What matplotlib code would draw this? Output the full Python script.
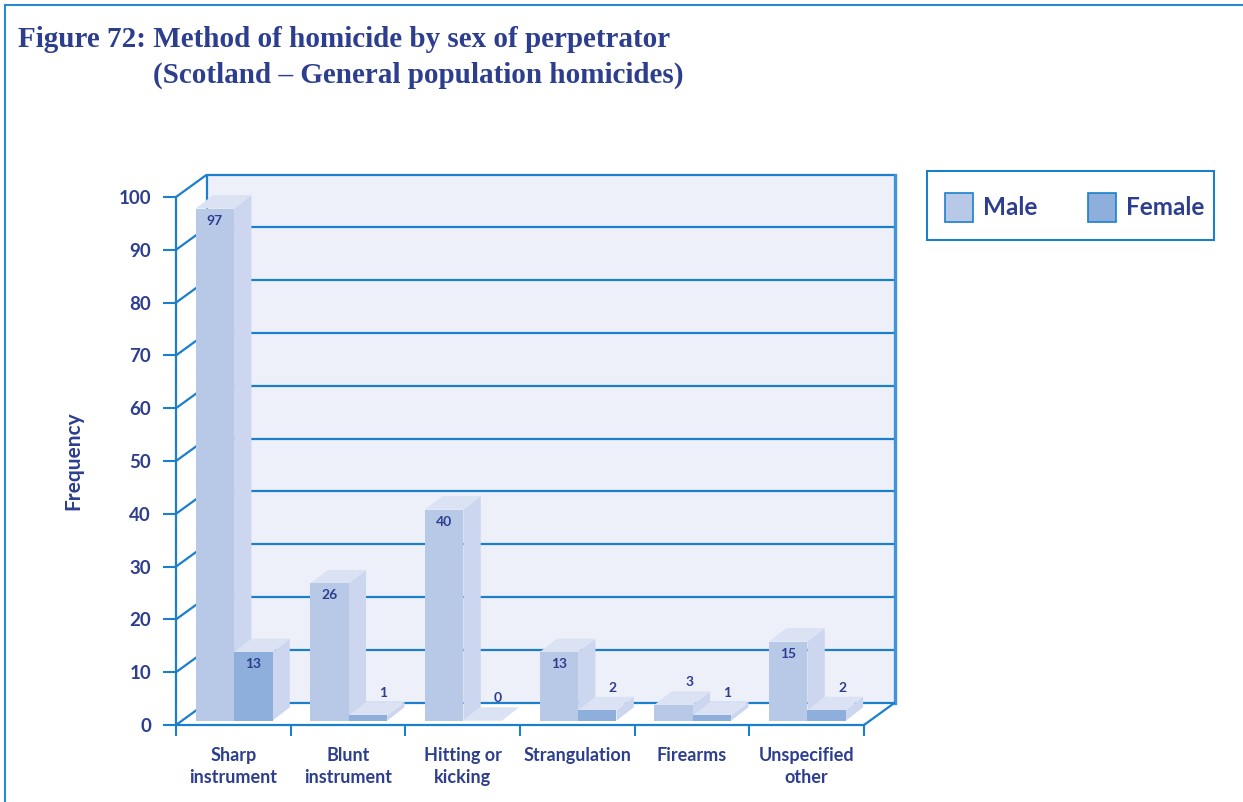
import matplotlib
matplotlib.use('Agg')
import matplotlib.pyplot as plt
from matplotlib.patches import Polygon, Rectangle
from matplotlib.lines import Line2D

# ---------------- data ----------------
categories = ["Sharp\ninstrument", "Blunt\ninstrument", "Hitting or\nkicking",
              "Strangulation", "Firearms", "Unspecified\nother"]
male = [97, 26, 40, 13, 3, 15]
female = [13, 1, 0, 2, 1, 2]
series_names = ["Male", "Female"]
yticks = list(range(0, 101, 10))

# ---------------- style ----------------
TEXT = '#2d3e8e'
LINE = '#1b7fcb'
WALL = '#edf0f8'
MALE_FRONT = '#b8c8e7'
FEMALE_FRONT = '#8eaedb'
SIDE = '#ccd6ee'
TOP = '#dbe2f3'

plt.rcParams['font.family'] = ['Lato', 'DejaVu Sans']
plt.rcParams['font.weight'] = 'bold'
plt.rcParams['axes.labelweight'] = 'bold'

W, H = 1243, 802
fig = plt.figure(figsize=(W / 100, H / 100), dpi=100)
ax = fig.add_axes([176 / W, 77 / H, 688 / W, 528 / H])
n = len(categories)
ax.set_xlim(0, n)
ax.set_ylim(0, 100)
ax.set_facecolor('none')

# pixel -> data conversion factors (for the pseudo-3D depth offsets)
px_x = n / 688
px_y = 100 / 528
wall_dx, wall_dy = 31 * px_x, 22.5 * px_y
bar_dx, bar_dy = 17.3 * px_x, 13.4 * px_y
base = 4.3 * px_y
bw = 38.4 * px_x
off_m = 19.7 * px_x

# back wall
ax.add_patch(Polygon([(wall_dx, wall_dy), (n + wall_dx, wall_dy),
                      (n + wall_dx, 100 + wall_dy), (wall_dx, 100 + wall_dy)],
                     closed=True, facecolor=WALL, edgecolor='none',
                     zorder=0.5, clip_on=False))
lkw = dict(color=LINE, lw=1.6, clip_on=False, solid_capstyle='butt')
for v in yticks:
    ax.plot([wall_dx, n + wall_dx], [v + wall_dy, v + wall_dy], zorder=1.5, **lkw)
    ax.plot([0, wall_dx], [v, v + wall_dy], zorder=1.5, **lkw)
ax.plot([wall_dx, wall_dx], [wall_dy, 100 + wall_dy], zorder=1.5, **lkw)
ax.plot([n + wall_dx, n + wall_dx], [wall_dy, 100 + wall_dy], zorder=1.5,
        color='#3f93d6', lw=2.4, clip_on=False)
ax.plot([n, n + wall_dx], [0, wall_dy], zorder=1.5, **lkw)

# bars
z = 3
for i in range(n):
    for j, (vals, col) in enumerate([(male, MALE_FRONT), (female, FEMALE_FRONT)]):
        v = vals[i]
        x0 = i + off_m + j * bw
        y0 = base
        ax.add_patch(Polygon([(x0 + bw, y0), (x0 + bw + bar_dx, y0 + bar_dy),
                              (x0 + bw + bar_dx, y0 + v + bar_dy), (x0 + bw, y0 + v)],
                             closed=True, facecolor=SIDE, edgecolor='none',
                             zorder=z, clip_on=False))
        ax.add_patch(Polygon([(x0, y0 + v), (x0 + bar_dx, y0 + v + bar_dy),
                              (x0 + bw + bar_dx, y0 + v + bar_dy), (x0 + bw, y0 + v)],
                             closed=True, facecolor=TOP, edgecolor='none',
                             zorder=z, clip_on=False))
        if v > 0:
            ax.add_patch(Rectangle((x0, y0), bw, v, facecolor=col,
                                   edgecolor='none', zorder=z + 0.1, clip_on=False))
        if v >= 10:
            ax.text(x0 + bw / 2, y0 + v - 12 * px_y, str(v), ha='center', va='center',
                    fontsize=10, color=TEXT, zorder=z + 0.2, clip_on=False)
        else:
            ax.text(x0 + bw / 2 + 15.5 * px_x, y0 + v + bar_dy + 1.7, str(v),
                    ha='center', va='center', fontsize=10, color=TEXT,
                    zorder=z + 0.2, clip_on=False)
        z += 1

# axes / ticks
for s in ['top', 'right']:
    ax.spines[s].set_visible(False)
for s in ['left', 'bottom']:
    ax.spines[s].set_color(LINE)
    ax.spines[s].set_linewidth(1.6)
ax.set_yticks(yticks)
ax.tick_params(axis='y', direction='out', length=9.4, width=1.5, color=LINE,
               pad=8.6, labelcolor=TEXT, labelsize=13.5)
ax.set_xticks(range(n + 1))
ax.set_xticklabels([])
ax.set_xticks([i + 0.5 for i in range(n)], minor=True)
ax.set_xticklabels(categories, minor=True)
ax.tick_params(axis='x', which='major', direction='out', length=7.9, width=1.5,
               color=LINE)
ax.tick_params(axis='x', which='minor', length=0, pad=15.5, labelsize=13,
               labelcolor=TEXT)
for t in ax.get_xticklabels(minor=True):
    t.set_linespacing(1.42)

ax.set_ylabel('Frequency', fontsize=15, color=TEXT, fontweight='bold')
ax.yaxis.set_label_coords(-0.134, 0.5)

# title
fig.text(18 / W, 1 - 47 / H, 'Figure 72: Method of homicide by sex of perpetrator',
         family='Liberation Serif', fontsize=21, fontweight='bold', color=TEXT,
         ha='left', va='baseline')
fig.text(153 / W, 1 - 83 / H, '(Scotland – General population homicides)',
         family='Liberation Serif', fontsize=21, fontweight='bold', color=TEXT,
         ha='left', va='baseline')

# legend (drawn manually)
fig.add_artist(Rectangle((927 / W, 1 - 240 / H), 287 / W, 69 / H, fill=False,
                         edgecolor=LINE, lw=1.5, transform=fig.transFigure))
for name, col, xp, xt in [(series_names[0], MALE_FRONT, 945, 983),
                          (series_names[1], FEMALE_FRONT, 1088, 1126)]:
    fig.add_artist(Rectangle((xp / W, 1 - 222 / H), 28 / W, 29 / H, facecolor=col,
                             edgecolor=LINE, lw=1.2, transform=fig.transFigure))
    fig.text(xt / W, 1 - 207 / H, name, fontsize=17.5, color=TEXT,
             ha='left', va='center')

# outer frame
fig.add_artist(Line2D([5 / W, 5 / W], [0, 1 - 5 / H], transform=fig.transFigure,
                      color='#2a8ad0', lw=1.5))
fig.add_artist(Line2D([5 / W, 1], [1 - 5 / H, 1 - 5 / H], transform=fig.transFigure,
                      color='#2a8ad0', lw=1.5))

fig.savefig('out.png', dpi=100)
